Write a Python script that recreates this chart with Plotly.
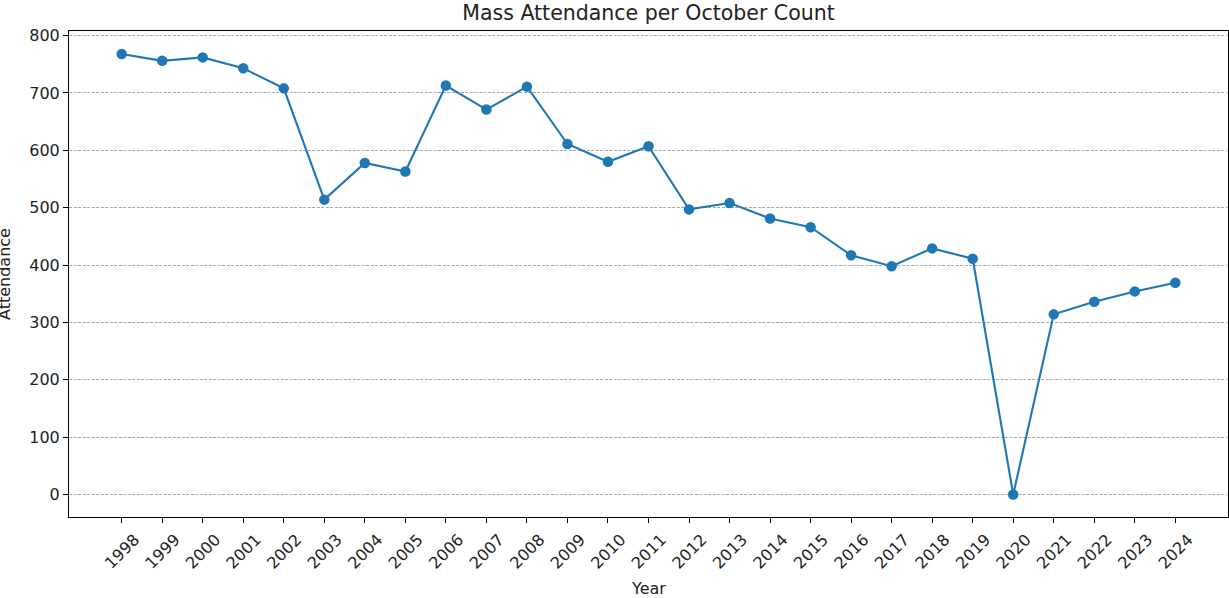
import plotly.graph_objects as go

years = list(range(1998, 2025))
attendance = [768, 756, 762, 743, 708, 514, 578, 563, 713, 671, 711, 611,
              580, 607, 497, 508, 481, 466, 417, 398, 429, 411, 0, 314,
              336, 354, 369]
y_ticks = [0, 100, 200, 300, 400, 500, 600, 700, 800]

font_family = "DejaVu Sans"
txt_color = "#222222"

fig = go.Figure()
fig.add_trace(go.Scatter(
    x=years, y=attendance, mode="lines+markers",
    line=dict(color="#1f77b4", width=2.1),
    marker=dict(color="#1f77b4", size=10.5),
    showlegend=False,
))

fig.update_layout(
    width=1229, height=598,
    margin=dict(l=69, r=1, t=31, b=81, autoexpand=False),
    paper_bgcolor="white", plot_bgcolor="white",
    font=dict(family=font_family, size=16, color=txt_color),
    title=dict(text="Mass Attendance per October Count", x=0.5, xref="paper",
               xanchor="center", y=1 - 13 / 598, yref="container", yanchor="middle",
               font=dict(family=font_family, size=20.5, color=txt_color)),
)

fig.update_xaxes(
    range=[1996.7, 2025.3], automargin=False,
    tickmode="array", tickvals=years, ticktext=[str(y) for y in years],
    tickangle=-45, ticklabelshift=13, ticklabelstandoff=1,
    ticks="outside", ticklen=5, tickcolor="black", tickwidth=1,
    showline=True, linecolor="black", linewidth=1, mirror=True,
    showgrid=False, zeroline=False,
    tickfont=dict(family=font_family, size=16, color=txt_color),
)
fig.update_yaxes(
    range=[-39.3, 808], automargin=False,
    tickmode="array", tickvals=y_ticks, ticktext=[str(v) for v in y_ticks],
    ticks="outside", ticklen=5, tickcolor="black", tickwidth=1,
    showline=True, linecolor="black", linewidth=1, mirror=True,
    showgrid=True, gridcolor="#a8a8a8", griddash="3px,1.5px", gridwidth=0.8,
    zeroline=False,
    tickfont=dict(family=font_family, size=16, color=txt_color),
)

fig.add_annotation(
    text="Year", xref="paper", yref="paper", x=0.5, y=0,
    xanchor="center", yanchor="middle", yshift=-71, showarrow=False,
    font=dict(family=font_family, size=16, color=txt_color),
)
fig.add_annotation(
    text="Attendance", textangle=-90, xref="paper", yref="paper",
    x=0, y=0.5, xanchor="center", yanchor="middle", xshift=-65, showarrow=False,
    font=dict(family=font_family, size=16, color=txt_color),
)

fig.write_html("out.html", config={"displayModeBar": False},
               post_script="document.body.style.margin='0';")
